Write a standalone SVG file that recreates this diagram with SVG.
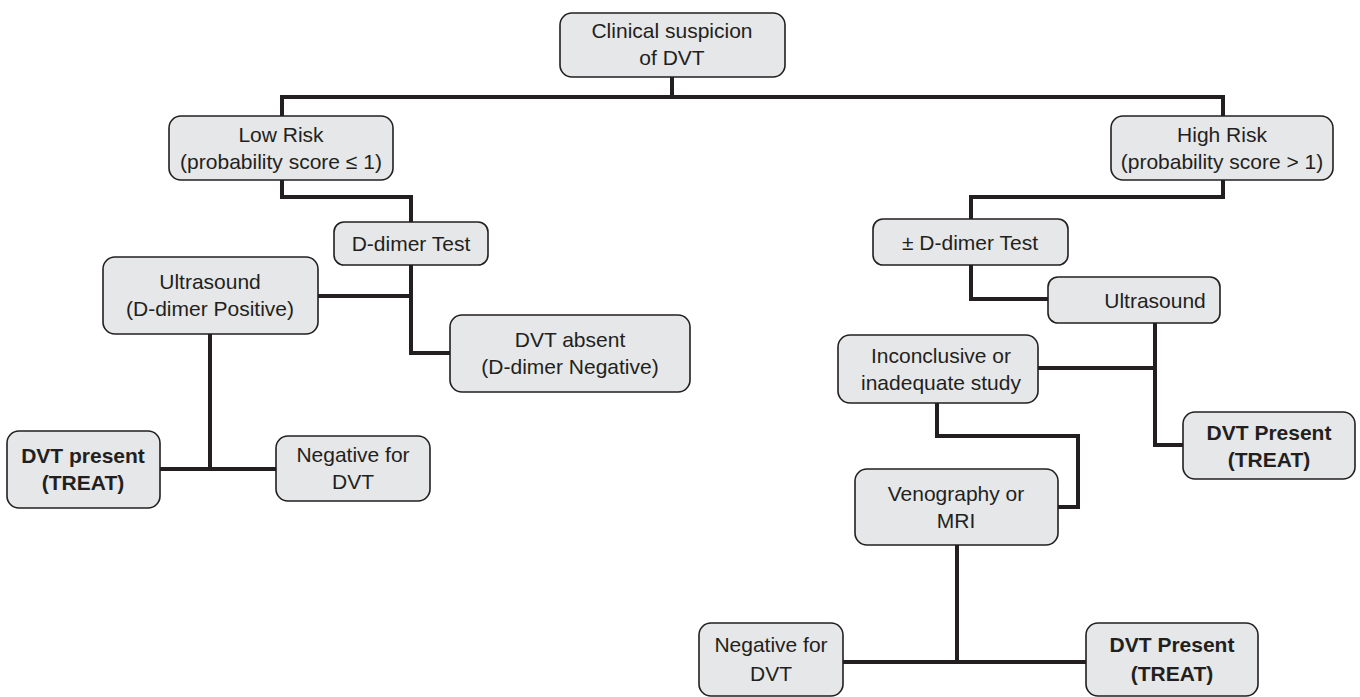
<svg xmlns="http://www.w3.org/2000/svg" width="1360" height="697" viewBox="0 0 1360 697">
<style>
.box{fill:#e6e7e8;stroke:#231f20;stroke-width:1.6}
.t{font-family:"Liberation Sans",Arial,sans-serif;font-size:21px;fill:#231f20;text-anchor:middle}
.b{font-weight:bold}
.c{fill:none;stroke:#231f20;stroke-width:4;stroke-linejoin:miter;stroke-linecap:square}
</style>
<rect width="1360" height="697" fill="#ffffff"/>
<g id="connectors">
<polyline class="c" points="672,78 672,97"/>
<polyline class="c" points="282,115 282,97 1223,97 1223,114"/>
<polyline class="c" points="282,181 282,197 411,197 411,221"/>
<polyline class="c" points="1223,181 1223,197 971,197 971,218"/>
<polyline class="c" points="411,266 411,353 449,353"/>
<polyline class="c" points="319,296 411,296"/>
<polyline class="c" points="210,335 210,469"/>
<polyline class="c" points="161,469 275,469"/>
<polyline class="c" points="971,266 971,299 1047,299"/>
<polyline class="c" points="1155,324 1155,445 1182,445"/>
<polyline class="c" points="1039,368 1155,368"/>
<polyline class="c" points="937,404 937,436 1078,436 1078,507 1059,507"/>
<polyline class="c" points="957,546 957,662"/>
<polyline class="c" points="844,662 1085,662"/>
</g>
<g id="n1"><rect class="box" x="560" y="13" width="225" height="64" rx="12"/><text class="t" x="672" y="38">Clinical suspicion</text><text class="t" x="672" y="65">of DVT</text></g>
<g id="n2"><rect class="box" x="169" y="116" width="224" height="64" rx="12"/><text class="t" x="281" y="142">Low Risk</text><text class="t" x="281" y="169">(probability score ≤ 1)</text></g>
<g id="n3"><rect class="box" x="1111" y="116" width="222" height="64" rx="12"/><text class="t" x="1222" y="142">High Risk</text><text class="t" x="1222" y="169">(probability score &gt; 1)</text></g>
<g id="n4"><rect class="box" x="334" y="222" width="154" height="43" rx="10"/><text class="t" x="411" y="251">D-dimer Test</text></g>
<g id="n5"><rect class="box" x="103" y="257" width="215" height="77" rx="12"/><text class="t" x="210" y="289">Ultrasound</text><text class="t" x="210" y="316">(D-dimer Positive)</text></g>
<g id="n6"><rect class="box" x="450" y="315" width="240" height="77" rx="12"/><text class="t" x="570" y="347">DVT absent</text><text class="t" x="570" y="374">(D-dimer Negative)</text></g>
<g id="n7"><rect class="box" x="7" y="431" width="153" height="77" rx="12"/><text class="t b" x="83" y="463">DVT present</text><text class="t b" x="83" y="490">(TREAT)</text></g>
<g id="n8"><rect class="box" x="276" y="436" width="154" height="65" rx="12"/><text class="t" x="353" y="462">Negative for</text><text class="t" x="353" y="489">DVT</text></g>
<g id="n9"><rect class="box" x="873" y="219" width="195" height="46" rx="10"/><text class="t" x="970" y="250">± D-dimer Test</text></g>
<g id="n10"><rect class="box" x="1048" y="277" width="172" height="46" rx="10"/><text class="t" x="1155" y="308">Ultrasound</text></g>
<g id="n11"><rect class="box" x="838" y="335" width="200" height="68" rx="12"/><text class="t" x="941" y="363">Inconclusive or</text><text class="t" x="941" y="390">inadequate study</text></g>
<g id="n12"><rect class="box" x="1183" y="412" width="172" height="67" rx="12"/><text class="t b" x="1269" y="440">DVT Present</text><text class="t b" x="1269" y="467">(TREAT)</text></g>
<g id="n13"><rect class="box" x="855" y="469" width="203" height="76" rx="12"/><text class="t" x="956" y="501">Venography or</text><text class="t" x="956" y="528">MRI</text></g>
<g id="n14"><rect class="box" x="699" y="623" width="144" height="73" rx="12"/><text class="t" x="771" y="652">Negative for</text><text class="t" x="771" y="681">DVT</text></g>
<g id="n15"><rect class="box" x="1086" y="623" width="172" height="73" rx="12"/><text class="t b" x="1172" y="652">DVT Present</text><text class="t b" x="1172" y="681">(TREAT)</text></g>
</svg>
